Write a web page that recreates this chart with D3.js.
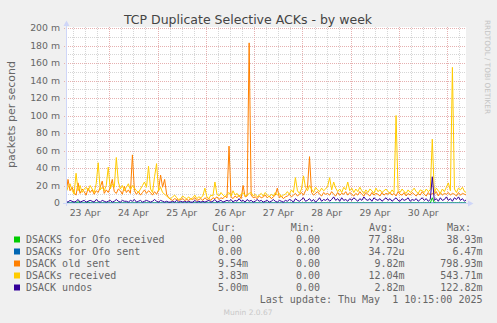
<!DOCTYPE html>
<html><head><meta charset="utf-8">
<script src="https://cdn.jsdelivr.net/npm/d3@7"></script>
<style>body{margin:0;background:#F0F0F0}svg{display:block}</style>
</head><body>
<svg id="c" width="497" height="323"></svg>
<script>
// ---------- data (values in milli-packets per second, one point per hour) ----------
const startTime = Date.UTC(2025, 3, 23, 2, 30);
const endTime = Date.UTC(2025, 4, 1, 9, 15);
const stepHours = 1;

const seriesNames = ["DSACKS for Ofo received", "DSACKs for Ofo sent", "DSACK old sent", "DSACKs received", "DSACK undos"];
const seriesColors = ["#00CC00", "#0066B3", "#FF8000", "#FFCC00", "#330099"];
const curValues = ["0.00", "0.00", "9.54m", "3.83m", "5.00m"];
const minValues = ["0.00", "0.00", "0.00", "0.00", "0.00"];
const avgValues = ["77.88u", "34.72u", "9.82m", "12.04m", "2.82m"];
const maxValues = ["38.93m", "6.47m", "798.93m", "543.71m", "122.82m"];
const yTickValues = [0, 20, 40, 60, 80, 100, 120, 140, 160, 180, 200];
const lastUpdate = "Last update: Thu May  1 10:15:00 2025";

const ofoReceived = [
0,0,0,0,0,0,1.5,0,0,0, 0,1.2,0,0,0,0,0,0,0,0, 0,0,0,0,0,0,0,0,0,0, 0,0,0,0,0,0,0,0,0,0,
0,0,0,0,0,0,0,0,0,0, 0,0,0,0,0,0,0,0,0,0, 0,0,0,0,0,0,0,0,0,0, 0,0,0,0,0,0,0,0,0,0,
0,0,0,0,0,0,0,0,0,0, 0,0,0,0,0,0,0,0,0,0, 0,0,0,0,0,0,0,0,0,0, 0,0,0,0,0,0,0,0,0,0,
0,0,0,0,0,0,0,0,0,0, 0,0,0,0,0,0,0,0,0,0, 0,0,0,0,0,0,0,0,0,0, 0,0,0,0,0,0,0,0,0,0,
0,0,0,0,0,0,0,0,0,0, 0,0,0,0,0,0,0,0,0,0, 0,0,6,0,0,0,0,0,0,0, 0,0,0,0,0,0,0,0,0,0];
const ofoSent = [
0,0,0,0,0,0,0,0,0,0, 0,0,0,0,0,0,0,0,0,0, 0,0,0,0,0,0,0,0,0,0, 0,0,0,0,0,0,0,0,0,0,
0,0,0,0,0,0,0,0,0,0, 0,0,0,0,0,0,0,0,0,0, 0,0,0,0,0,0,0,0,0,0, 0,0,0,0,0,0,0,0,0,0,
0,0,0,0,0,0,0,0,0,0, 0,0,0,0,0,0,0,0,0,0, 0,0,0,0,0,0,0,0,0,0, 0,0,0,0,0,0,0,0,0,0,
0,0,0,0,0,0,0,0,0,0, 0,0,0,0,0,0,0,0,0,0, 0,0,0,0,0,0,0,0,0,0, 0,0,0,0,0,0,0,0,0,0,
0,0,0,0,0,0,0,0,0,0, 0,0,0,0,0,0,0,0,0,0, 0,0,0,0,0,0,0,0,0,0, 0,0,0,0,0,0,0,0,0,0];
const oldSent = [
10,27,14,18,12,9,23,11,16,13, 9,17,12,15,10,14,12,18,25,11,
15,12,18,27,13,11,16,14,10,19, 12,15,11,55,14,10,13,9,12,15,
11,14,12,9,13,10,15,32,18,27, 10,6,4,3,5,4,3,4,5,3,
4,3,5,4,6,3,4,5,3,6, 4,5,3,6,5,7,4,6,5,8,
6,65,7,5,8,6,9,5,20,7, 8,183,9,6,7,5,8,6,7,9,
6,8,5,7,9,17,6,8,5,7, 8,10,7,9,11,8,10,12,9,14,
18,53,12,9,11,13,10,8,12,10, 11,9,13,10,8,12,9,11,10,13,
9,12,10,8,11,9,13,10,8,12, 10,8,12,9,11,10,8,12,9,11,
10,12,9,11,8,13,10,9,12,8, 11,9,12,10,8,11,9,13,10,8,
12,9,11,10,13,8,12,9,11,10, 12,9,11,10,8,12,9,11,10,9];
const received = [
12,18,22,15,10,34,14,20,12,16, 18,14,20,16,12,22,46,15,18,14,
20,41,16,22,18,52,24,16,20,14, 18,22,15,20,17,14,12,16,20,24,
18,42,16,12,30,45,14,18,12,10, 8,6,5,7,9,6,4,5,8,6,
5,7,4,6,9,5,7,6,8,17, 7,5,9,8,24,10,8,12,9,7,
10,12,8,14,9,11,7,10,12,8, 9,11,12,8,10,7,9,11,8,12,
9,7,10,8,12,9,11,7,9,10, 13,10,15,12,29,14,11,16,31,18,
14,20,16,12,18,15,13,17,14,16, 19,29,15,24,17,13,16,12,18,15,
24,14,17,12,16,13,18,14,11,15, 12,16,14,11,17,13,15,12,14,16,
13,11,15,12,100,14,12,16,13,11, 15,12,14,17,13,11,15,14,12,16,
13,15,73,12,17,14,11,16,13,18, 23,14,155,16,12,17,15,18,13,12];
const undos = [
2,1,3,2,1,2,4,1,2,3, 1,2,3,2,1,4,2,1,3,2,
1,2,3,1,2,4,2,1,3,2, 2,1,3,2,4,1,2,3,1,2,
3,2,1,2,4,2,1,3,2,1, 2,1,1,2,1,3,1,2,1,2,
1,2,1,1,3,1,2,1,2,1, 2,3,1,2,4,1,2,3,1,2,
3,2,4,1,3,2,5,2,3,1, 4,2,3,1,2,4,2,3,1,2,
3,1,2,4,2,1,3,2,1,3, 2,4,3,1,5,3,2,4,6,2,
3,5,2,4,1,3,6,2,4,3, 5,2,4,7,3,5,2,6,3,4,
2,5,3,6,4,2,5,3,7,4, 3,5,2,6,4,3,5,2,4,6,
3,5,2,4,6,3,2,5,3,4, 6,2,4,3,5,2,4,6,3,5,
2,4,30,3,5,2,6,3,4,7, 3,5,2,6,4,7,3,5,2,4];
const seriesValues = [ofoReceived, ofoSent, oldSent, received, undos];

// ---------- layout ----------
const W = 497, H = 323, L = 66, R = 466, T = 28, B = 203;
const svg = d3.select("#c");
const x = d3.scaleUtc().domain([startTime, endTime]).range([L, R]);
const y = d3.scaleLinear().domain([0, 200]).range([B, T]);
const FONT = "DejaVu Sans, sans-serif", MONO = "DejaVu Sans Mono, monospace";
const TXT = "#666666";
const GRID = "#D6D6D6", MGRID = "#E6B0B0";

svg.append("rect").attr("width", W).attr("height", H).attr("fill", "#F0F0F0");
svg.append("rect").attr("x", L).attr("y", T - 1).attr("width", R - L).attr("height", B - T + 1).attr("fill", "#FFFFFF");

// grid
const g = svg.append("g").attr("shape-rendering", "crispEdges");
const minorY = d3.range(10, 200, 20);
g.selectAll(".hmin").data(minorY).enter().append("line")
  .attr("x1", L).attr("x2", R).attr("y1", d => Math.round(y(d)) + 0.5).attr("y2", d => Math.round(y(d)) + 0.5)
  .attr("stroke", GRID).attr("stroke-dasharray", "1,1");
const sixHours = d3.utcHour.every(6).range(new Date(startTime), new Date(endTime)).filter(d => d.getUTCHours() !== 0);
g.selectAll(".vmin").data(sixHours).enter().append("line")
  .attr("x1", d => Math.round(x(d)) + 0.5).attr("x2", d => Math.round(x(d)) + 0.5).attr("y1", T - 1).attr("y2", B)
  .attr("stroke", GRID).attr("stroke-dasharray", "1,1");
g.selectAll(".hmaj").data(yTickValues.filter(v => v > 0)).enter().append("line")
  .attr("x1", L - 2).attr("x2", R).attr("y1", d => Math.round(y(d)) + 0.5).attr("y2", d => Math.round(y(d)) + 0.5)
  .attr("stroke", MGRID).attr("stroke-dasharray", "1,1");
const days = d3.utcDay.range(new Date(startTime), new Date(endTime));
g.selectAll(".vmaj").data(days).enter().append("line")
  .attr("x1", d => Math.round(x(d)) + 0.5).attr("x2", d => Math.round(x(d)) + 0.5).attr("y1", T - 1).attr("y2", B + 2)
  .attr("stroke", MGRID).attr("stroke-dasharray", "1,1");

// y tick labels
svg.selectAll(".yl").data(yTickValues).enter().append("text")
  .attr("x", 60).attr("y", d => y(d)).attr("dy", "0.35em").attr("text-anchor", "end")
  .attr("font-family", FONT).attr("font-size", 9.33).attr("fill", TXT)
  .text(d => d === 0 ? "0" : d + " m");

// x tick labels (centered at noon)
const noons = d3.utcDay.range(new Date(Date.UTC(2025, 3, 23)), new Date(Date.UTC(2025, 4, 1))).map(d => d3.utcHour.offset(d, 12));
svg.selectAll(".xl").data(noons).enter().append("text")
  .attr("x", d => x(d)).attr("y", 216).attr("text-anchor", "middle")
  .attr("font-family", FONT).attr("font-size", 9.33).attr("fill", TXT)
  .text(d => d3.utcFormat("%d Apr")(d));

// series lines
svg.append("clipPath").attr("id", "pc").append("rect")
  .attr("x", L).attr("y", T - 3).attr("width", R - L).attr("height", B - T + 3);
const line = d3.line().x((d, i) => x(startTime + i * stepHours * 3600e3)).y(d => y(d));
const lg = svg.append("g").attr("clip-path", "url(#pc)");
seriesValues.forEach((vals, k) => {
  lg.append("path").attr("d", line(vals)).attr("fill", "none")
    .attr("stroke", seriesColors[k]).attr("stroke-width", 1);
});

// axes
const AX = "#CFD6F8";
svg.append("line").attr("x1", L - 3).attr("x2", 469).attr("y1", B + 0.5).attr("y2", B + 0.5).attr("stroke", AX).attr("shape-rendering", "crispEdges");
svg.append("line").attr("x1", L + 0.5).attr("x2", L + 0.5).attr("y1", B + 3).attr("y2", 25).attr("stroke", AX).attr("shape-rendering", "crispEdges");
svg.append("path").attr("d", `M468,${B - 2.5}L473.5,${B + 0.5}L468,${B + 3.5}Z`).attr("fill", AX);
svg.append("path").attr("d", `M${L - 2.5},26L${L + 0.5},20.5L${L + 3.5},26Z`).attr("fill", AX);

// title and labels
svg.append("text").attr("x", 248).attr("y", 23.5).attr("text-anchor", "middle")
  .attr("font-family", FONT).attr("font-size", 12.5).attr("fill", "#444444")
  .text("TCP Duplicate Selective ACKs - by week");
svg.append("text").attr("transform", "translate(14.5,114.5) rotate(-90)").attr("text-anchor", "middle")
  .attr("font-family", FONT).attr("font-size", 11).attr("fill", TXT)
  .text("packets per second");
svg.append("text").attr("transform", "translate(485,20) rotate(90)").attr("text-anchor", "start")
  .attr("font-family", FONT).attr("font-size", 7.3).attr("fill", "#C4C4C4")
  .text("RRDTOOL / TOBI OETIKER");

// legend
const CW = 6.02;
const headers = [["Cur:", 212], ["Min:", 290.7], ["Avg:", 369], ["Max:", 447]];
headers.forEach(([t, hx]) => svg.append("text").attr("x", hx).attr("y", 231)
  .attr("font-family", MONO).attr("font-size", 10).attr("fill", TXT).text(t));
const colEdges = [248, 326, 404.5, 482.5];
const cols = [curValues, minValues, avgValues, maxValues];
seriesNames.forEach((name, k) => {
  const by = 243 + k * 12;
  svg.append("rect").attr("x", 14).attr("y", by - 6.5).attr("width", 6).attr("height", 6).attr("fill", seriesColors[k]);
  svg.append("text").attr("x", 26).attr("y", by).attr("font-family", MONO).attr("font-size", 10).attr("fill", TXT).text(name);
  cols.forEach((arr, c) => {
    const s = arr[k];
    const hasUnit = /[a-zA-Z]$/.test(s);
    svg.append("text").attr("x", colEdges[c] - (hasUnit ? 0 : CW)).attr("y", by).attr("text-anchor", "end")
      .attr("font-family", MONO).attr("font-size", 10).attr("fill", TXT).text(s);
  });
});
svg.append("text").attr("x", 482.5).attr("y", 303).attr("text-anchor", "end").attr("xml:space", "preserve")
  .style("white-space", "pre").attr("font-family", MONO).attr("font-size", 10).attr("fill", TXT).text(lastUpdate);
svg.append("text").attr("x", 248).attr("y", 315).attr("text-anchor", "middle")
  .attr("font-family", FONT).attr("font-size", 7.5).attr("fill", "#C8C8C8").text("Munin 2.0.67");
</script>
</body></html>
